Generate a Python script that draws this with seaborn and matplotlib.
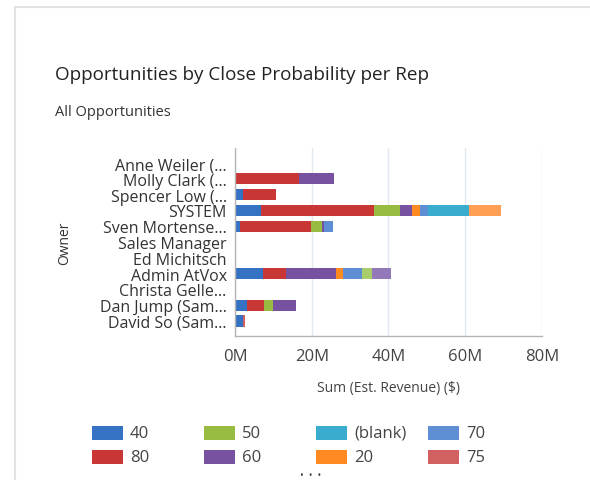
"""
Opportunities by Close Probability per Rep
Stacked horizontal bar chart of estimated revenue per owner.
"""

import numpy as np
import pandas as pd
import matplotlib
matplotlib.use("Agg")
import matplotlib.pyplot as plt
from matplotlib.patches import Rectangle
from matplotlib.lines import Line2D
from matplotlib.ticker import FuncFormatter
import seaborn as sns

# Data (millions of $)
owners = ["Anne Weiler (…", "Molly Clark (…", "Spencer Low (…", "SYSTEM",
          "Sven Mortense…", "Sales Manager", "Ed Michitsch", "Admin AtVox",
          "Christa Gelle…", "Dan Jump (Sam…", "David So (Sam…"]

p40 = [0, 0, 2.2, 6.8, 1.3, 0, 0, 7.3, 0, 3.2, 2.2]
p80 = [0, 16.8, 8.6, 29.5, 18.6, 0, 0, 5.9, 0, 4.4, 0]
p75 = [0, 0, 0, 0, 0, 0, 0, 0, 0, 0, 0.3]
p50 = [0, 0, 0, 6.7, 2.7, 0, 0, 0, 0, 2.3, 0]
p60 = [0, 9.1, 0, 3.2, 0.5, 0, 0, 13.0, 0, 6.0, 0]
p20 = [0, 0, 0, 2.0, 0, 0, 0, 2.0, 0, 0, 0]
p70 = [0, 0, 0, 2.1, 2.4, 0, 0, 4.9, 0, 0, 0]
p_blank = [0, 0, 0, 10.6, 0, 0, 0, 0, 0, 0, 0]
p10 = [0, 0, 0, 8.4, 0, 0, 0, 0, 0, 0, 0]
p90 = [0, 0, 0, 0, 0, 0, 0, 2.7, 0, 0, 0]
p30 = [0, 0, 0, 0, 0, 0, 0, 4.8, 0, 0, 0]

# stacking order as drawn left to right
series = [("40", p40), ("80", p80), ("75", p75), ("50", p50), ("60", p60),
          ("20", p20), ("70", p70), ("(blank)", p_blank), ("10", p10),
          ("90", p90), ("30", p30)]

colors = {"40": "#3572C3", "80": "#C83636", "75": "#D26060", "50": "#98BC42",
          "60": "#7652A0", "20": "#FF8A22", "70": "#5E8ED3",
          "(blank)": "#3AADCE", "10": "#FF9E55", "90": "#A9CD6A",
          "30": "#9378BA"}

# legend shows only the first eight (column-major: two rows)
legend_order = ["40", "80", "50", "60", "(blank)", "20", "70", "75"]

FONT = ["Open Sans", "DejaVu Sans"]
TEXT = "#333333"
AXIS = "#B4B4B4"


def main():
    sns.set_style("white")
    plt.rcParams["font.family"] = FONT

    fig = plt.figure(figsize=(5.9, 4.81), dpi=100)
    ax = fig.add_axes([0.3983, 0.2994, 0.5203, 0.3908])

    # cumulative ends, drawn from the outermost layer inwards
    vals = np.array([s[1] for s in series]) * 1e6
    cum = np.cumsum(vals, axis=0)
    for i in range(len(series) - 1, -1, -1):
        name = series[i][0]
        df = pd.DataFrame({"owner": owners, "end": cum[i]})
        sns.barplot(data=df, x="end", y="owner", color=colors[name],
                    orient="h", width=0.7, saturation=1, linewidth=0, ax=ax)

    ax.set_xlim(0, 80e6)
    ax.set_ylim(10.95, -0.95)
    ax.set_xticks([0, 20e6, 40e6, 60e6, 80e6])
    ax.xaxis.set_major_formatter(FuncFormatter(lambda v, p: f"{v / 1e6:.0f}M"))
    ax.set_yticks(range(len(owners)))
    ax.set_yticklabels(owners)
    ax.set_yticks([-0.95], minor=True)

    ax.grid(axis="x", color="#E3E9F0", lw=1)
    ax.set_axisbelow(True)
    for s in ["top", "right"]:
        ax.spines[s].set_visible(False)
    for s in ["left", "bottom"]:
        ax.spines[s].set_color(AXIS)
        ax.spines[s].set_linewidth(1)

    ax.tick_params(axis="x", direction="in", length=3, color=AXIS,
                   labelsize=12, labelcolor="#444444", pad=9)
    ax.tick_params(axis="y", which="both", direction="out", length=4,
                   color=AXIS, labelsize=11.5, labelcolor=TEXT, pad=2)

    ax.set_xlabel("Sum (Est. Revenue) ($)", fontsize=10, color="#444444",
                  labelpad=11)
    ax.set_ylabel("Owner", fontsize=10, color=TEXT, labelpad=20)

    # titles
    fig.text(55 / 590, 1 - 75 / 481, "Opportunities by Close Probability per Rep",
             fontsize=13.6, color="#222222", va="center", ha="left")
    fig.text(55 / 590, 1 - 113 / 481, "All Opportunities",
             fontsize=10.5, color=TEXT, va="center", ha="left")

    # legend laid out as a 4 x 2 grid
    for k, name in enumerate(legend_order):
        col, row = k // 2, k % 2
        x0 = (92 + 112 * col) / 590
        yc = 1 - (434 + 24 * row) / 481
        fig.add_artist(Rectangle((x0, yc - 7 / 481), 31 / 590, 14 / 481,
                                 transform=fig.transFigure,
                                 color=colors[name], lw=0))
        fig.text(x0 + 38 / 590, yc, name, fontsize=12, color="#444444",
                 va="center", ha="left")
    fig.text(311 / 590, 1 - 477 / 481, "•  •  •", fontsize=7,
             color="#444444", va="center", ha="center")

    # card border (top and left)
    fig.add_artist(Line2D([15 / 590, 15 / 590], [0, 1 - 8 / 481],
                          transform=fig.transFigure, color="#E2E2E2", lw=1.5))
    fig.add_artist(Line2D([15 / 590, 1], [1 - 8 / 481, 1 - 8 / 481],
                          transform=fig.transFigure, color="#E2E2E2", lw=1.5))

    fig.savefig("out.png", dpi=100)
    plt.close(fig)


if __name__ == "__main__":
    main()
